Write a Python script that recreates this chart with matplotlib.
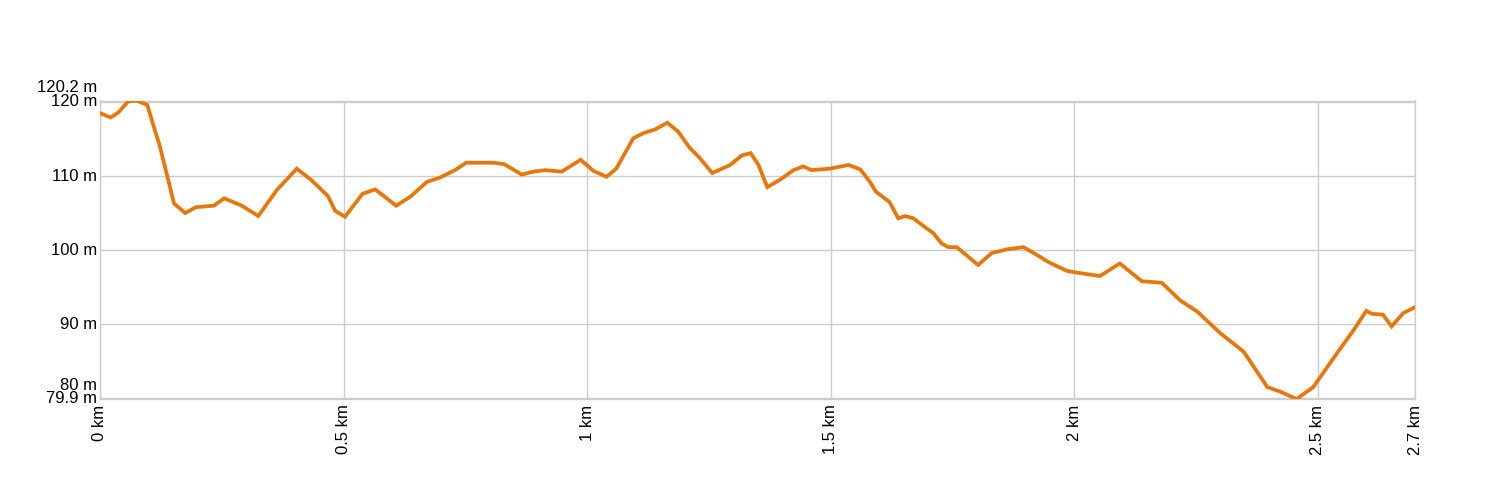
import matplotlib
matplotlib.use("Agg")
import matplotlib.pyplot as plt

# elevation profile, distance in km, elevation in m
dist_km = [0.000, 0.022, 0.038, 0.058, 0.075, 0.097, 0.108, 0.123, 0.140, 0.152,
           0.175, 0.197, 0.216, 0.234, 0.255, 0.291, 0.325, 0.363, 0.404, 0.435,
           0.468, 0.483, 0.503, 0.539, 0.565, 0.608, 0.637, 0.671, 0.698, 0.729,
           0.752, 0.808, 0.830, 0.866, 0.890, 0.914, 0.948, 0.987, 1.013, 1.040,
           1.060, 1.095, 1.116, 1.140, 1.165, 1.187, 1.211, 1.232, 1.257, 1.294,
           1.318, 1.336, 1.352, 1.370, 1.396, 1.424, 1.444, 1.461, 1.499, 1.537,
           1.561, 1.581, 1.593, 1.621, 1.639, 1.653, 1.670, 1.698, 1.711, 1.728,
           1.742, 1.759, 1.803, 1.831, 1.862, 1.896, 1.920, 1.947, 1.985, 2.012,
           2.053, 2.094, 2.139, 2.180, 2.218, 2.253, 2.300, 2.348, 2.397, 2.423,
           2.457, 2.491, 2.539, 2.574, 2.600, 2.612, 2.634, 2.652, 2.676, 2.700]
elev_m = [118.5, 117.9, 118.6, 120.1, 120.2, 119.6, 117.2, 114.0, 109.5, 106.3,
          105.0, 105.8, 105.9, 106.0, 107.0, 106.0, 104.6, 108.1, 111.0, 109.4,
          107.3, 105.3, 104.5, 107.6, 108.2, 106.0, 107.2, 109.2, 109.8, 110.8,
          111.8, 111.8, 111.6, 110.2, 110.6, 110.8, 110.6, 112.2, 110.7, 109.9,
          111.0, 115.1, 115.8, 116.3, 117.2, 116.0, 113.8, 112.4, 110.4, 111.5,
          112.8, 113.1, 111.5, 108.5, 109.5, 110.8, 111.3, 110.8, 111.0, 111.5,
          110.9, 109.2, 107.9, 106.5, 104.3, 104.6, 104.3, 102.9, 102.3, 100.9,
          100.4, 100.4, 98.0, 99.6, 100.1, 100.4, 99.5, 98.4, 97.2, 96.9,
          96.5, 98.2, 95.8, 95.6, 93.2, 91.7, 88.8, 86.3, 81.5, 80.9,
          79.9, 81.5, 86.0, 89.2, 91.8, 91.4, 91.3, 89.7, 91.5, 92.3]

x_ticks = [0, 0.5, 1, 1.5, 2, 2.5, 2.7]
x_labels = ["0 km", "0.5 km", "1 km", "1.5 km", "2 km", "2.5 km", "2.7 km"]
y_ticks = [80, 90, 100, 110, 120]
y_min, y_max = 79.9, 120.2

plt.rcParams["font.family"] = ["Liberation Sans", "DejaVu Sans"]

fig = plt.figure(figsize=(15, 5), dpi=100)
ax = fig.add_axes([100 / 1500, 1 - 399 / 500, 1315 / 1500, 298.5 / 500])

ax.plot(dist_km, elev_m, color="#E8770B", lw=2.7, solid_joinstyle="miter", zorder=3)

ax.set_xlim(0, 2.7)
ax.set_ylim(y_min, y_max)

ax.set_xticks(x_ticks)
ax.set_xticklabels(x_labels, rotation=90, va="top", ha="center", fontsize=12)
ax.set_yticks(y_ticks)
ax.set_yticklabels([])
ax.tick_params(length=0, pad=4)
ax.grid(True, color="#cccccc", lw=1)

for s in ax.spines.values():
    s.set_color("#cccccc")
    s.set_linewidth(1.0)

# y labels, the ones near the limits nudged up so they don't overlap
y_labels = [(y_max, "120.2 m", 9), (120, "120 m", 0), (110, "110 m", 0),
            (100, "100 m", 0), (90, "90 m", 0), (80, "80 m", 9), (y_min, "79.9 m", 0)]
for val, txt, dy in y_labels:
    ax.annotate(txt, xy=(0, val), xycoords=("axes fraction", "data"),
                xytext=(-2, dy), textcoords="offset points",
                ha="right", va="center", fontsize=12)

fig.savefig("out.png", dpi=100)
